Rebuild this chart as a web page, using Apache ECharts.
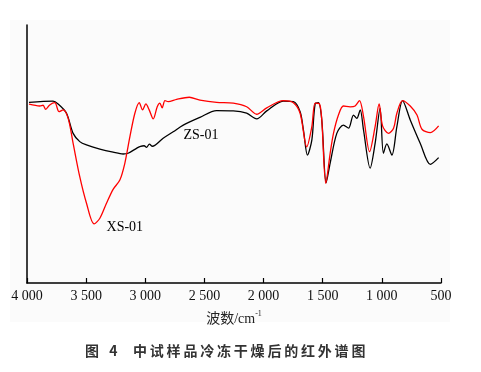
<!DOCTYPE html>
<html>
<head>
<meta charset="utf-8">
<script src="https://cdn.jsdelivr.net/npm/echarts@6/dist/echarts.min.js"></script>
<style>
html,body{margin:0;padding:0;background:#fff;}
#chart{width:481px;height:372px;}
</style>
</head>
<body>
<div id="chart"></div>
<script>
// Wavenumber (cm^-1) and relative transmittance
const zsWave = [3983,3780,3737,3667,3610,3554,3497,3384,3272,3187,3145,3074,3040,3010,2990,2965,2940,2849,2764,2679,2538,2397,2256,2143,2058,1973,1833,1748,1691,1663,1629,1592,1564,1536,1508,1471,1437,1381,1325,1282,1240,1212,1183,1155,1099,1057,1015,987,958,915,873,825,760,675,590,520];
const zsValue = [70.0,70.5,69.4,65.9,58.0,54.8,53.5,51.9,50.7,50.0,50.3,52.2,53.0,53.2,52.6,53.8,53.0,56.1,58.6,61.2,64.2,66.8,66.7,65.8,63.6,66.7,70.5,70.3,66.4,59.3,49.6,55.4,69.4,69.9,63.2,38.9,46.5,58.0,61.2,60.0,65.1,63.8,67.1,59.3,44.5,54.1,67.7,50.3,53.9,49.6,60.6,70.7,63.2,54.1,46.0,48.6];

const xsWave = [3983,3892,3864,3842,3808,3765,3729,3695,3652,3610,3554,3497,3433,3384,3328,3272,3215,3173,3130,3088,3051,3023,2995,2967,2933,2899,2877,2857,2834,2806,2735,2628,2538,2397,2256,2143,2058,1973,1833,1748,1691,1635,1592,1564,1527,1508,1474,1437,1409,1367,1325,1268,1226,1189,1155,1104,1057,1023,994,944,901,873,825,760,703,661,590,520];
const xsValue = [69.3,68.6,68.9,67.3,69.0,69.9,66.4,67.1,63.8,54.1,41.2,30.9,22.9,25.1,30.9,36.3,39.9,46.4,56.7,65.8,69.9,67.1,69.4,67.1,63.6,68.3,69.7,67.9,70.7,70.3,71.2,72.0,70.9,70.0,69.7,68.3,65.4,67.9,70.7,69.9,65.8,52.8,60.6,69.7,69.4,63.2,38.6,50.3,58.0,65.1,68.6,68.3,68.6,70.7,64.5,50.9,60.6,69.4,60.9,58.0,60.0,65.8,70.7,68.6,65.1,59.6,58.3,60.9];

const xTicks = [4000,3500,3000,2500,2000,1500,1000,500];
const tickLabels = ['4 000','3 500','3 000','2 500','2 000','1 500','1 000','500'];
const seriesNames = ['ZS-01','XS-01'];
const seriesColors = ['#000000','#ff0000'];
const labelPos = [[2529,57.4],[3173,21.7]];
const captionHead = '图\u2002 4';
const captionBody = '中试样品冷冻干燥后的红外谱图';

const zip = (a,b) => a.map((v,i)=>[v,b[i]]);

const chart = echarts.init(document.getElementById('chart'), null, {renderer:'canvas'});
const serif = '"Liberation Serif","Times New Roman","Noto Sans CJK SC",serif';

function nameLabel(name){
  return {
    symbol:'circle', symbolSize:0,
    data:[{coord:labelPos[seriesNames.indexOf(name)]}],
    label:{show:true, position:'inside', formatter:name, fontFamily:serif, fontSize:14, color:'#000'}
  };
}

chart.setOption({
  animation:false,
  backgroundColor:'#ffffff',
  graphic:[
    {type:'rect', z:-10, shape:{x:10,y:20,width:440,height:302}, style:{fill:'#fbfbfb'}},
    {type:'text', left:85, top:344, style:{text:captionHead, font:'bold 14px "Noto Sans CJK SC"', fill:'#333333'}},
    {type:'text', left:133, top:344, style:{text:captionBody.split('').join('\u2009'), font:'bold 14px "Noto Sans CJK SC"', fill:'#333333'}}
  ],
  grid:{left:27, right:40, top:25, bottom:89},
  xAxis:{
    type:'value', inverse:true, min:500, max:4000, interval:500,
    axisLine:{show:true, onZero:false, lineStyle:{color:'#000', width:1.5}},
    axisTick:{show:true, inside:true, length:5, lineStyle:{color:'#000', width:1.2}},
    splitLine:{show:false},
    axisLabel:{
      margin:6, color:'#111', fontFamily:serif, fontSize:14,
      formatter:(v)=>{const i=xTicks.indexOf(v); return i>=0?tickLabels[i]:'';}
    },
    name:'{a|波数/cm}{b|-1}', nameLocation:'middle', nameGap:27,
    nameTextStyle:{
      rich:{
        a:{fontFamily:serif, fontSize:14, color:'#222', verticalAlign:'bottom', lineHeight:16},
        b:{fontFamily:serif, fontSize:8, color:'#222', verticalAlign:'top', lineHeight:16}
      }
    }
  },
  yAxis:{
    type:'value', min:0, max:100,
    axisLine:{show:true, lineStyle:{color:'#000', width:1.5}},
    axisTick:{show:false}, axisLabel:{show:false}, splitLine:{show:false}
  },
  series:[
    {
      name:seriesNames[0], type:'line', data:zip(zsWave,zsValue), smooth:0.3,
      showSymbol:false, lineStyle:{color:seriesColors[0], width:1.3},
      markPoint:nameLabel(seriesNames[0])
    },
    {
      name:seriesNames[1], type:'line', data:zip(xsWave,xsValue), smooth:0.3,
      showSymbol:false, lineStyle:{color:seriesColors[1], width:1.3},
      markPoint:nameLabel(seriesNames[1])
    }
  ]
});
</script>
</body>
</html>
